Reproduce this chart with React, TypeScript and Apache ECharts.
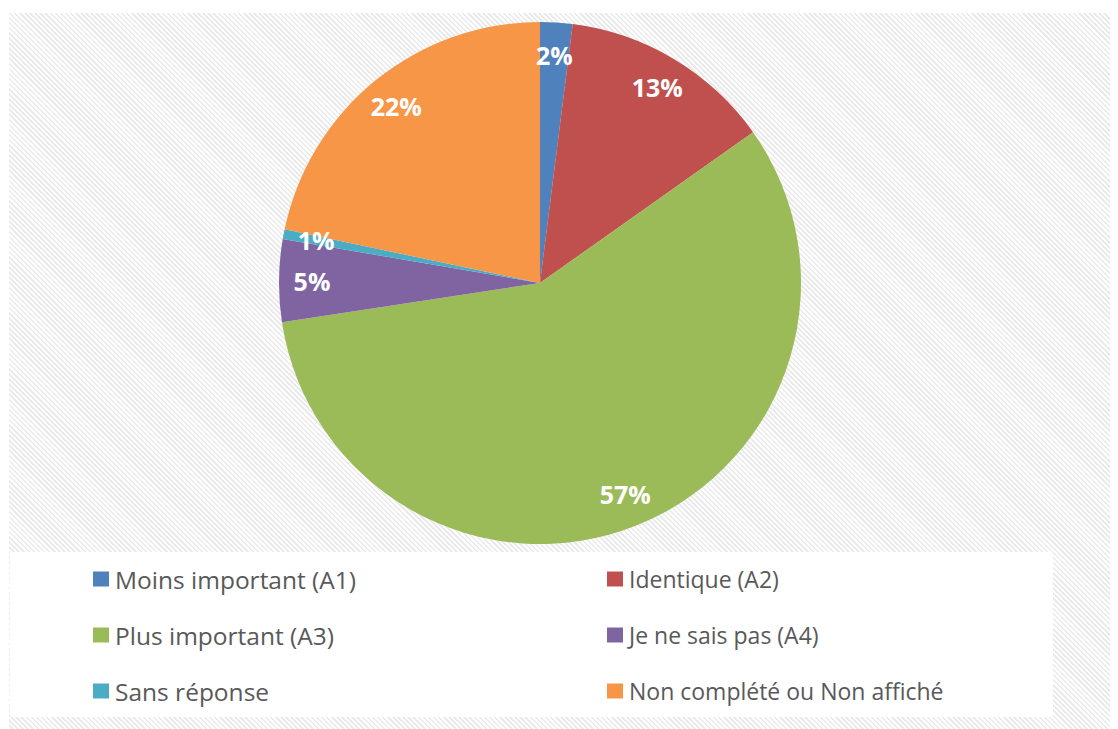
import React, { useEffect, useRef } from "react";
import * as echarts from "echarts";

const categories = [
  "Moins important (A1)",
  "Identique (A2)",
  "Plus important (A3)",
  "Je ne sais pas (A4)",
  "Sans réponse",
  "Non complété ou Non affiché",
];
const values = [2.0, 13.2, 57.4, 5.1, 0.6, 21.7];
const colors = ["#4F81BD", "#C0504D", "#9BBB59", "#8064A2", "#4BACC6", "#F79646"];
const legendLeftCol = [0, 2, 4];
const legendRightCol = [1, 3, 5];

export default function App() {
  const ref = useRef<HTMLDivElement>(null);
  useEffect(() => {
    if (!ref.current) return;
    const chart = echarts.init(ref.current, undefined, { renderer: "svg" });
    const data = categories.map((name, i) => ({
      name,
      value: values[i],
      itemStyle: { color: colors[i] },
    }));
    const labelData = categories.map((name, i) => ({ name, value: values[i] }));
    const legendItems = (idx: number[]) =>
      idx.map((i) => ({ name: categories[i], itemStyle: { color: colors[i] } }));
    const legendCommon = (fontSize: number) => ({
      orient: "vertical" as const,
      top: 558,
      padding: 0,
      itemWidth: 16,
      itemHeight: 15,
      itemGap: 30,
      icon: "rect",
      selectedMode: false,
      textStyle: {
        fontFamily: "Open Sans",
        fontSize,
        lineHeight: 26,
        color: "#595959",
        padding: [0, 0, 0, 1],
      },
    });
    chart.setOption({
      animation: false,
      graphic: [
        {
          type: "rect",
          shape: { x: 2, y: 544, width: 1043, height: 165 },
          style: { fill: "#ffffff" },
          z: -10,
          silent: true,
        },
      ],
      legend: [
        { ...legendCommon(24.5), left: 85, data: legendItems(legendLeftCol) },
        { ...legendCommon(23), left: 599, data: legendItems(legendRightCol) },
      ],
      series: [
        {
          type: "pie",
          center: [532, 275],
          radius: 261,
          startAngle: 90,
          clockwise: true,
          data,
          label: { show: false },
          labelLine: { show: false },
          itemStyle: { borderWidth: 0 },
          silent: true,
        },
        {
          type: "pie",
          center: [532, 275],
          radius: [190, 260],
          startAngle: 90,
          clockwise: true,
          data: labelData,
          itemStyle: { color: "rgba(0,0,0,0)", borderWidth: 0 },
          labelLine: { show: false },
          silent: true,
          label: {
            show: true,
            position: "inside",
            formatter: (p: any) => Math.round(p.value) + "%",
            color: "#ffffff",
            fontFamily: "Open Sans",
            fontWeight: "bold",
            fontSize: 25,
          },
        },
      ],
    });
    return () => chart.dispose();
  }, []);

  return (
    <div style={{ position: "relative", width: 1110, height: 721 }}>
      <div
        style={{
          position: "absolute",
          top: 5,
          left: 1,
          right: 0,
          bottom: 0,
          background:
            "repeating-linear-gradient(45deg, #ffffff 0px, #ffffff 1.8px, #ebebeb 1.8px, #ebebeb 3.6px)",
        }}
      />
      <div ref={ref} style={{ position: "absolute", top: 0, left: 0, width: 1110, height: 721 }} />
    </div>
  );
}
